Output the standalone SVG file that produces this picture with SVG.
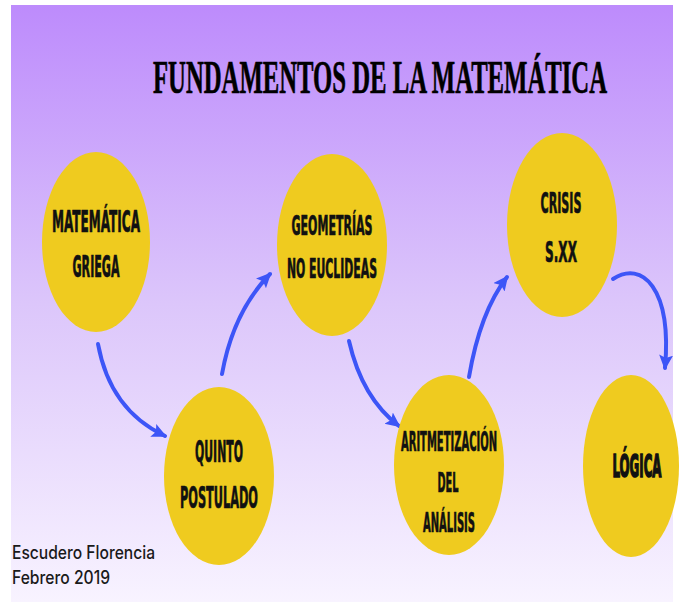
<svg xmlns="http://www.w3.org/2000/svg" width="680" height="608" viewBox="0 0 680 608">
  <defs>
    <linearGradient id="bg" x1="0" y1="0" x2="0" y2="1">
      <stop offset="0" stop-color="#bd8bfc"/>
      <stop offset="0.5" stop-color="#dcc6fb"/>
      <stop offset="1" stop-color="#f8f3ff"/>
    </linearGradient>
    <marker id="ah" markerUnits="userSpaceOnUse" markerWidth="18" markerHeight="16" refX="13" refY="7" orient="auto">
      <path d="M0,0 L15,7 L0,14 L3,7 Z" fill="#3d55f7"/>
    </marker>
    <style>
      .node { fill: #efcb1f; }
      .lbl { font-family: "DejaVu Sans Condensed", "DejaVu Sans", sans-serif; font-weight: bold; fill: #111; stroke: #111; stroke-width: 0.7; text-anchor: middle; }
      .conn { fill: none; stroke: #3d55f7; stroke-width: 4; stroke-linecap: round; marker-end: url(#ah); }
      .title { font-family: "Liberation Serif", serif; font-weight: bold; fill: #000; stroke: #000; stroke-width: 0.35; text-anchor: middle; }
      .foot { font-family: Inter, "Liberation Sans", sans-serif; font-weight: 500; fill: #1a1a1a; }
    </style>
  </defs>

  <rect x="0" y="0" width="680" height="608" fill="#ffffff"/>
  <rect x="11" y="5" width="662" height="597" fill="url(#bg)"/>

  <text class="title" transform="translate(380,93) scale(1,1.88)" x="0" y="0" font-size="24.5" textLength="454" lengthAdjust="spacingAndGlyphs">FUNDAMENTOS DE LA MATEMÁTICA</text>

  <g id="connectors">
    <path class="conn" d="M98,344 Q110,410 165,436"/>
    <path class="conn" d="M222,374 Q233,312 270,274"/>
    <path class="conn" d="M349,341 Q362,398 399,426"/>
    <path class="conn" d="M469,377 Q480,312 507,277"/>
    <path class="conn" d="M613,279 C642,260 672,288 665,368"/>
  </g>

  <g id="matematica-griega">
    <ellipse class="node" cx="96" cy="242" rx="54" ry="90"/>
    <text class="lbl" x="96" y="232" font-size="30" textLength="88" lengthAdjust="spacingAndGlyphs">MATEMÁTICA</text>
    <text class="lbl" x="96" y="277" font-size="30" textLength="47" lengthAdjust="spacingAndGlyphs">GRIEGA</text>
  </g>

  <g id="quinto-postulado">
    <ellipse class="node" cx="219" cy="476" rx="55" ry="89"/>
    <text class="lbl" x="219" y="462" font-size="30" textLength="48" lengthAdjust="spacingAndGlyphs">QUINTO</text>
    <text class="lbl" x="219" y="508" font-size="30" textLength="78" lengthAdjust="spacingAndGlyphs">POSTULADO</text>
  </g>

  <g id="geometrias">
    <ellipse class="node" cx="332" cy="245" rx="55" ry="91"/>
    <text class="lbl" x="332" y="235" font-size="26" textLength="81" lengthAdjust="spacingAndGlyphs">GEOMETRÍAS</text>
    <text class="lbl" x="332" y="278" font-size="26" textLength="90" lengthAdjust="spacingAndGlyphs">NO EUCLIDEAS</text>
  </g>

  <g id="aritmetizacion">
    <ellipse class="node" cx="449" cy="465" rx="55" ry="90"/>
    <text class="lbl" x="449" y="451" font-size="26" textLength="96" lengthAdjust="spacingAndGlyphs">ARITMETIZACIÓN</text>
    <text class="lbl" x="448" y="492" font-size="26" textLength="21" lengthAdjust="spacingAndGlyphs">DEL</text>
    <text class="lbl" x="449" y="532" font-size="26" textLength="52" lengthAdjust="spacingAndGlyphs">ANÁLISIS</text>
  </g>

  <g id="crisis">
    <ellipse class="node" cx="562" cy="225" rx="55" ry="92"/>
    <text class="lbl" x="561" y="213" font-size="29" textLength="41" lengthAdjust="spacingAndGlyphs">CRISIS</text>
    <text class="lbl" x="561" y="262" font-size="29" textLength="32" lengthAdjust="spacingAndGlyphs">S.XX</text>
  </g>

  <g id="logica">
    <ellipse class="node" cx="631" cy="466" rx="48" ry="91"/>
    <text class="lbl" transform="translate(637,477) scale(1,2.4)" x="0" y="0" font-size="13.3" stroke-width="0.35" textLength="49" lengthAdjust="spacingAndGlyphs">LÓGICA</text>
  </g>

  <text class="foot" x="12" y="559" font-size="18" textLength="143" lengthAdjust="spacingAndGlyphs">Escudero Florencia</text>
  <text class="foot" x="12" y="584" font-size="18" textLength="98" lengthAdjust="spacingAndGlyphs">Febrero 2019</text>
</svg>
